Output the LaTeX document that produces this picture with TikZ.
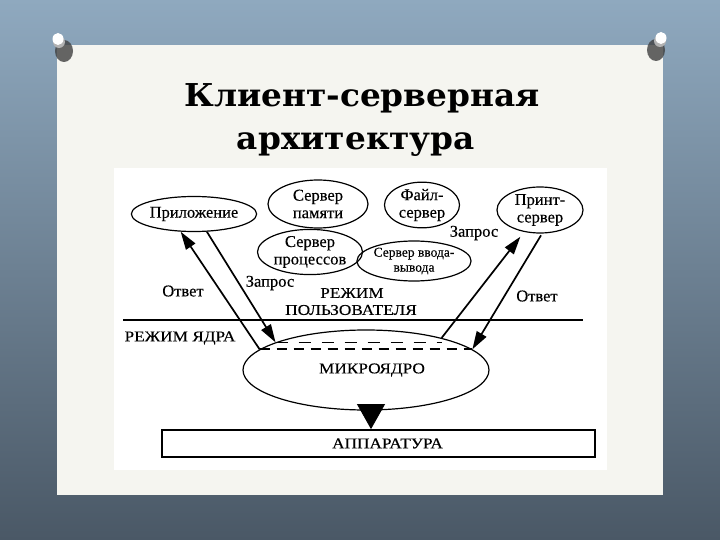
\documentclass[tikz,border=0pt]{standalone}
\usepackage{fontspec}
\setmainfont[FakeBold=0.3]{Liberation Serif}
\newfontfamily\titlefont[FakeStretch=1.04]{DejaVu Serif}
\newfontfamily\capsfont[FakeStretch=1.15,FakeBold=0.3]{Liberation Serif}
\usetikzlibrary{shapes.geometric,arrows.meta}
\definecolor{bgtop}{HTML}{8FA9BF}
\definecolor{bgbot}{HTML}{4A5866}
\definecolor{slide}{HTML}{F5F5F0}
\tikzset{
  el/.style={ellipse, draw, line width=1.2pt, inner sep=0pt, align=center,
    font=\fontsize{16.5}{17.5}\selectfont},
  lbl/.style={inner sep=0pt, font=\fontsize{16.5}{18}\selectfont},
  caps/.style={inner sep=0pt, font=\capsfont\fontsize{15}{16.5}\selectfont},
  arr/.style={line width=1.7pt, -{Triangle[length=18pt,width=11pt]}},
  ttl/.style={anchor=base, inner sep=0pt, font=\titlefont\bfseries\fontsize{31.5}{36}\selectfont}
}
\begin{document}
\begin{tikzpicture}[x=1pt,y=-1pt]
\useasboundingbox (0,0) rectangle (720,540);
% background
\shade[top color=bgtop, bottom color=bgbot] (0,0) rectangle (720,540);
\fill[slide] (57,45) rectangle (663,495);
\fill[white] (114,168) rectangle (607,470);
% pins
\fill[black!75, opacity=0.8] (64,51) ellipse (9 and 11);
\fill[gray!60] (59,42) ellipse (6 and 6);
\fill[white] (58,39) ellipse (5.5 and 6);
\fill[black!75, opacity=0.8] (656,50) ellipse (9 and 11);
\fill[gray!60] (660,41) ellipse (6 and 6);
\fill[white] (661,38) ellipse (5.5 and 6);
% title
\node[ttl] (t1) at (362,107) {Клиент-серверная};
\node[ttl] (t2) at (356,150) {архитектура};
% servers
\node[el, minimum width=125, minimum height=35] (app) at (194,214) {Приложение};
\node[el, minimum width=100, minimum height=48] (mem) at (318,204) {Сервер\\памяти};
\node[el, minimum width=75, minimum height=45] (file) at (422,205) {Файл-\\сервер};
\node[el, minimum width=86, minimum height=46] (psrv) at (540,210) {Принт-\\сервер};
\node[el, minimum width=105, minimum height=40] (proc) at (310,252) {Сервер\\процессов};
\node[el, minimum width=86, minimum height=40, font=\fontsize{13.5}{15}\selectfont] (io) at (414,261) {Сервер ввода-\\вывода};
% kernel and hardware
\node[el, minimum width=246, minimum height=80, font=\capsfont\fontsize{15}{16.5}\selectfont] (mk) at (366,370) {\hspace*{12pt}МИКРОЯДРО};
\node[draw, line width=1.8pt, minimum width=433, minimum height=27, inner sep=0pt,
  font=\capsfont\fontsize{15}{16.5}\selectfont] (hw) at (378.5,443.5) {\hspace*{18pt}АППАРАТУРА};
% mode line
\coordinate (ll) at (123,320);
\coordinate (lr) at (583,320);
\draw[line width=2.4pt] (ll) -- (lr);
\node[caps] (um1) at (352,293) {РЕЖИМ};
\node[caps] (um2) at (351,310) {ПОЛЬЗОВАТЕЛЯ};
\node[caps] (km) at (180,338) {РЕЖИМ ЯДРА};
% dashed lines
\draw[line width=1.3pt, dash pattern=on 12pt off 11pt] (mk.163) -- (mk.163 -| mk.23);
\draw[line width=2pt, dash pattern=on 10pt off 7pt] (mk.169) -- (mk.169 -| mk.11);
% arrows
\draw[arr] (mk.169) -- (app.233);
\draw[arr] (app.306) -- (mk.163);
\draw[arr, shorten >=6pt] (mk.23) -- (psrv.234);
\draw[arr, shorten <=2pt] (psrv.275) -- (mk.11);
\draw[line width=0.8pt, -{Triangle[length=25pt,width=28pt]}, shorten <=-8pt]
  ([xshift=5pt]mk.south) -- ([xshift=5pt]mk.south |- hw.north);
% arrow labels
\node[lbl] (o1) at (183,291) {Ответ};
\node[lbl] (z1) at (270,283) {Запрос};
\node[lbl] (z2) at (474,233) {Запрос};
\node[lbl] (o2) at (537,296) {Ответ};
\end{tikzpicture}
\end{document}
